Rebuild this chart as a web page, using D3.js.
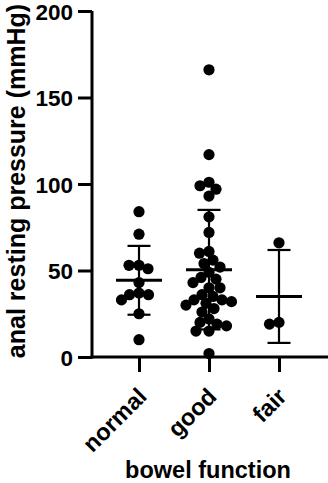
<!DOCTYPE html>
<html>
<head>
<meta charset="utf-8">
<script src="https://cdn.jsdelivr.net/npm/d3@7/dist/d3.min.js"></script>
<style>
  body { margin: 0; background: #fff; }
  svg { display: block; }
  text { font-family: "Liberation Sans", Arial, sans-serif; font-weight: bold; fill: #000; }
</style>
</head>
<body>
<svg id="chart" width="328" height="483"></svg>
<script>
"use strict";

// categories on the x-axis
const categories = [ "normal", "good", "fair" ];

// anal resting pressure (mmHg) per patient
const normalValues = [ 84, 71, 51, 53, 53, 43, 36, 33, 36, 37, 25, 10 ];
const goodValues   = [ 166, 117, 101, 99, 97, 93, 81, 72, 61, 60, 56, 54, 52, 49, 46, 45, 43,
                       40, 40, 36, 35, 33, 33, 32, 31, 30, 28, 26, 22, 20, 19, 18, 15, 15, 2 ];
const fairValues   = [ 66, 20, 19 ];

const yTicks = [ 0, 50, 100, 150, 200 ];
const yTitle = "anal resting pressure (mmHg)";
const xTitle = "bowel function";

const data = [
  { name: categories[0], values: normalValues },
  { name: categories[1], values: goodValues },
  { name: categories[2], values: fairValues }
];

const svg = d3.select( "#chart" );

// scales
const x = d3.scalePoint()
  .domain( categories )
  .range( [ 104, 314 ] )
  .padding( 0.5 );

const y = d3.scaleLinear()
  .domain( [ 0, 200 ] )
  .range( [ 357, 11 ] );

const axisX0 = 92, axisX1 = 328;
const r = 5.6;

// y-axis
const gy = svg.append( "g" )
  .attr( "transform", "translate(" + axisX0 + ",0)" )
  .call( d3.axisLeft( y ).tickValues( yTicks ).tickSize( 14 ).tickPadding( 5 ).tickSizeOuter( 0 ) );
gy.select( ".domain" ).attr( "stroke-width", 3 ).attr( "d", "M0," + ( y( 0 ) + 1.5 ) + "V" + y( 200 ) );
gy.selectAll( ".tick line" ).attr( "stroke-width", 3 );
gy.selectAll( ".tick text" ).style( "font-size", "22.5px" ).attr( "dy", "0.36em" );

// x-axis
const gx = svg.append( "g" )
  .attr( "transform", "translate(0," + y( 0 ) + ")" )
  .call( d3.axisBottom( x ).tickSize( 15 ).tickSizeOuter( 0 ).tickFormat( "" ) );
gx.select( ".domain" ).attr( "stroke-width", 3 ).attr( "d", "M" + ( axisX0 - 1.5 ) + ",0H" + axisX1 );
gx.selectAll( ".tick line" ).attr( "stroke-width", 3 );

// rotated category labels
svg.append( "g" )
  .selectAll( "text" )
  .data( categories )
  .join( "text" )
    .attr( "transform", (d) => "translate(" + ( x( d ) + 9 ) + ",398) rotate(-45)" )
    .attr( "text-anchor", "end" )
    .style( "font-size", "23.5px" )
    .text( (d) => d );

// axis titles
svg.append( "text" )
  .attr( "transform", "translate(25,181) rotate(-90)" )
  .attr( "text-anchor", "middle" )
  .style( "font-size", "25px" )
  .text( yTitle );

svg.append( "text" )
  .attr( "x", 208 )
  .attr( "y", 478 )
  .attr( "text-anchor", "middle" )
  .style( "font-size", "23.5px" )
  .text( xTitle );

// simple beeswarm: put each dot as close to the centre as it can go
function swarm( values ) {
  const placed = [];
  const sorted = values.slice().sort( (a,b) => b-a );
  const minDist = 2 * r * 0.85;
  sorted.forEach( (v) => {
    const py = y( v );
    let off = 0;
    for( let k=0; k<200; k++ ) {
      const cand = ( k % 2 === 0 ? 1 : -1 ) * Math.ceil( k/2 ) * 0.5;
      const ok = placed.every( (p) => Math.hypot( p.dx - cand, p.py - py ) >= minDist );
      if( ok ) { off = cand; break; }
    }
    placed.push( { v: v, py: py, dx: off } );
  });
  return placed;
}

const groups = svg.selectAll( ".grp" )
  .data( data )
  .join( "g" )
    .attr( "class", "grp" )
    .attr( "transform", (d) => "translate(" + x( d.name ) + ",0)" );

// dots
groups.selectAll( "circle" )
  .data( (d) => swarm( d.values ) )
  .join( "circle" )
    .attr( "cx", (d) => d.dx )
    .attr( "cy", (d) => d.py )
    .attr( "r", r )
    .attr( "fill", "#000" );

// mean and SD bars
groups.each( function( d ) {
  const g = d3.select( this );
  const m = d3.mean( d.values ), s = d3.deviation( d.values );
  g.append( "line" )
    .attr( "x1", 0 ).attr( "x2", 0 )
    .attr( "y1", y( m - s ) ).attr( "y2", y( m + s ) )
    .attr( "stroke", "#000" ).attr( "stroke-width", 2.2 );
  [ m - s, m + s ].forEach( (v) => {
    g.append( "line" )
      .attr( "x1", -11.5 ).attr( "x2", 11.5 )
      .attr( "y1", y( v ) ).attr( "y2", y( v ) )
      .attr( "stroke", "#000" ).attr( "stroke-width", 2.2 );
  });
  g.append( "line" )
    .attr( "x1", -23 ).attr( "x2", 23 )
    .attr( "y1", y( m ) ).attr( "y2", y( m ) )
    .attr( "stroke", "#000" ).attr( "stroke-width", 3 );
});
</script>
</body>
</html>
